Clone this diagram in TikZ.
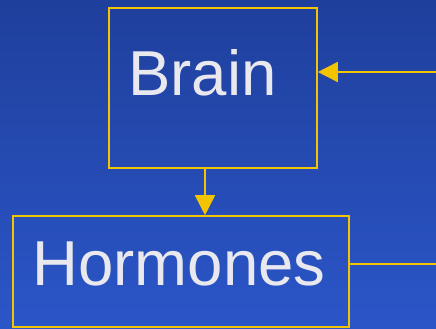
\documentclass[tikz,border=0pt]{standalone}
\usepackage{fontspec}
\setmainfont{Liberation Sans}
\usetikzlibrary{arrows.meta}
\definecolor{bgtop}{HTML}{1F3F9C}
\definecolor{bgbot}{HTML}{2B56C8}
\definecolor{gold}{HTML}{F5C400}
\definecolor{txt}{HTML}{E8E8EE}
\tikzset{
  box/.style={draw=gold, line width=1.6pt, rectangle, inner sep=0pt},
  lbl/.style={text=txt, font=\fontsize{63.5}{63.5}\selectfont, inner sep=0pt, anchor=base west},
  conn/.style={draw=gold, line width=1.6pt},
  arr/.style={conn, -{Triangle[length=20pt,width=20pt]}}
}
\begin{document}
\begin{tikzpicture}[x=1pt,y=-1pt]
\useasboundingbox (0,0) rectangle (436,329);
\shade[top color=bgtop, bottom color=bgbot] (0,0) rectangle (436,329);
\node[box, minimum width=208pt, minimum height=160pt] (brain) at (213,88) {};
\node[box, minimum width=336pt, minimum height=111pt] (horm) at (181,271.5) {};
\node[lbl] (braintxt) at (128,95.3) {Brain};
\node[lbl] (hormtxt) at (32.5,285.7) {Hormones};
\coordinate (in1) at (436,72);
\coordinate (out1) at (436,264);
\coordinate (mid) at (205,190);
\draw[arr] (in1) -- (in1 -| brain.east);
\draw[arr] (mid |- brain.south) -- (mid |- horm.north);
\draw[conn] (out1 -| horm.east) -- (out1);
\end{tikzpicture}
\end{document}
